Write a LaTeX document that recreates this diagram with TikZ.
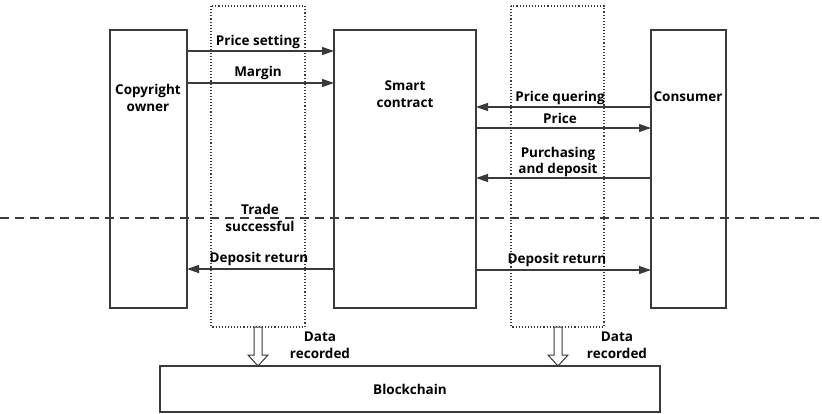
\documentclass[tikz,border=0pt]{standalone}
\usepackage{fontspec}
\setmainfont{Open Sans}
\usetikzlibrary{arrows.meta}
\definecolor{ink}{HTML}{3A3A3A}
\tikzset{
  x=1pt, y=-1pt,
  lane/.style={draw=ink, line width=1.4pt},
  zone/.style={draw=ink, line width=1.1pt, dotted},
  msg/.style={draw=ink, line width=1.3pt, -{Triangle[length=12pt,width=8pt]}},
  lbl/.style={font=\bfseries\fontsize{13.5}{16.5}\selectfont, text=black, inner sep=0pt, align=center},
  hollow/.style={draw=ink, line width=1pt, fill=white}
}
\begin{document}
\begin{tikzpicture}
\useasboundingbox (0,0) rectangle (822,413);

% dotted zones
\draw[zone] (211,6) rectangle (305,327);
\draw[zone] (511,6) rectangle (604,327);

% participants
\draw[lane] (110,30) rectangle (187,308);
\draw[lane] (334,30) rectangle (476,308);
\draw[lane] (651,30) rectangle (726,308);
\draw[lane] (160,366) rectangle (660,412);
\node[lbl] (owner) at (148,98) {Copyright\\owner};
\node[lbl] (contract) at (405,94) {Smart\\contract};
\node[lbl] (consumer) at (688,97) {Consumer};
\node[lbl] (chain) at (410,389) {Blockchain};

% anchors on lifelines
\coordinate (o1) at (187,51);  \coordinate (c1) at (334,51);
\coordinate (o2) at (187,83);  \coordinate (c2) at (334,83);
\coordinate (k3) at (651,107); \coordinate (s3) at (476,107);
\coordinate (s4) at (476,128); \coordinate (k4) at (651,128);
\coordinate (k5) at (651,178); \coordinate (s5) at (476,178);
\coordinate (c6) at (334,269); \coordinate (o6) at (187,269);
\coordinate (s7) at (476,270); \coordinate (k7) at (651,270);

% messages
\draw[msg] (o1) -- (c1);
\draw[msg] (o2) -- (c2);
\draw[msg] (k3) -- (s3);
\draw[msg] (s4) -- (k4);
\draw[msg] (k5) -- (s5);
\draw[msg] (c6) -- (o6);
\draw[msg] (s7) -- (k7);

\node[lbl] (t1) at (258,42) {Price setting};
\node[lbl] (t2) at (258,73) {Margin};
\node[lbl] (t3) at (560,98) {Price quering};
\node[lbl] (t4) at (560,118) {Price};
\node[lbl] (t5) at (558,162) {Purchasing\\and deposit};
\node[lbl] (t6) at (260,218) {Trade\\successful};
\node[lbl] (t7) at (259,259) {Deposit return};
\node[lbl] (t8) at (557,260) {Deposit return};

% phase separator
\draw[ink, line width=1.3pt, dash pattern=on 9pt off 6pt] (0,218) -- (822,218);

% hollow arrows down to the ledger
\draw[hollow] (254,327) -- (262,327) -- (262,355) -- (268,355) -- (258,366)
  -- (248,355) -- (254,355) -- cycle;
\draw[hollow] (554,327) -- (562,327) -- (562,355) -- (568,355) -- (558,366)
  -- (548,355) -- (554,355) -- cycle;
\node[lbl] (d1) at (320,345) {Data\\recorded};
\node[lbl] (d2) at (617,345) {Data\\recorded};
\end{tikzpicture}
\end{document}
